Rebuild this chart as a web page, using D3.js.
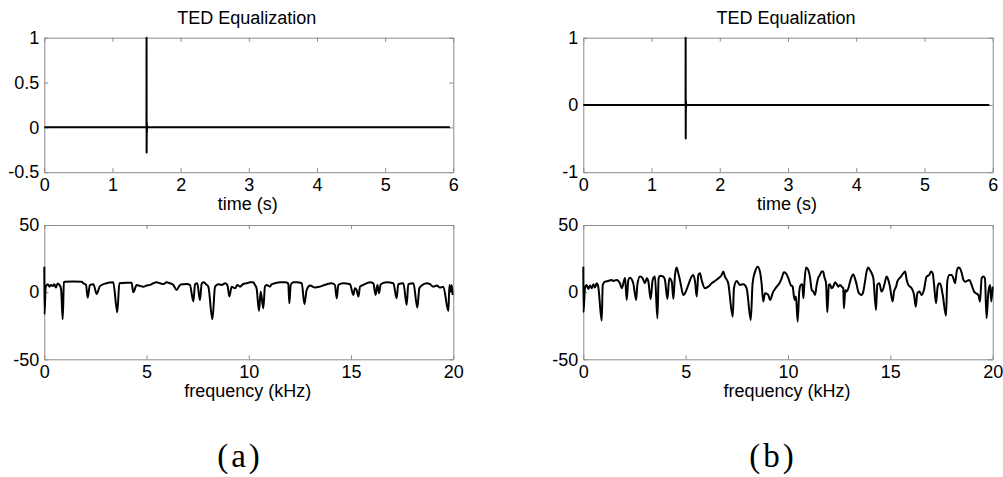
<!DOCTYPE html>
<html>
<head>
<meta charset="utf-8">
<script src="https://cdn.jsdelivr.net/npm/d3@7"></script>
<style>
  html, body { margin: 0; padding: 0; background: #fff; }
  svg { display: block; }
</style>
</head>
<body>
<svg id="fig" width="1003" height="477"></svg>
<script>
// Tick values
const timeTicks = [0, 1, 2, 3, 4, 5, 6];
const freqTicks = [0, 5, 10, 15, 20];
const ampTicksA = [-0.5, 0, 0.5, 1];
const ampTicksB = [-1, 0, 1];
const dbTicks = [-50, 0, 50];

// Equalized impulse responses: [time (s), amplitude]
const timeA = [[0, 0], [1.499, 0], [1.5, 1], [1.501, -0.28], [1.503, 0.06], [1.505, -0.06],
  [1.508, 0.02], [1.51, 0], [5.95, 0]];
const timeB = [[0, 0], [1.499, 0], [1.5, 1], [1.501, -0.5], [1.503, 0.07], [1.505, -0.05],
  [1.508, 0.02], [1.51, 0], [5.95, 0]];

// Magnitude responses: [frequency (kHz), level (dB)]
const freqA = [[0, 19], [0.01, -16.5], [0.07, 4.1], [0.17, 5.9], [0.25, 4.1], [0.33, 5.4], [0.41, 4.6],
  [0.49, 5.9], [0.57, 3.4], [0.65, 6.4], [0.74, 5.4], [0.82, 2.4], [0.9, -20.2], [0.96, 7.3], [1.01, 7.8],
  [1.4, 8.0], [1.83, 7.8], [1.91, 6.6], [2.04, 5.4], [2.12, -4.1], [2.23, 5.4], [2.4, 5.9], [2.56, -1.3],
  [2.72, 4.5], [3.0, 6.5], [3.37, 7.3], [3.57, -15.0], [3.67, 6.6], [4.0, 7.0], [4.27, 7.0], [4.35, -0.1],
  [4.52, 5.4], [4.68, 4.6], [4.84, 4.1], [5.0, 4.9], [5.17, 5.4], [5.33, 6.6], [5.49, 7.3], [5.66, 6.6],
  [5.82, 6.0], [5.98, 7.3], [6.14, 6.6], [6.31, 5.4], [6.47, 1.6], [6.64, 5.4], [6.8, 5.9], [6.96, 6.1],
  [7.12, 5.4], [7.29, -7.0], [7.37, 5.9], [7.48, 6.6], [7.61, -5.8], [7.7, 6.6], [7.81, 7.3], [7.91, 5.9],
  [8.02, 4.1], [8.22, -20.2], [8.35, 4.1], [8.51, 5.9], [8.68, 5.4], [8.84, 6.6], [8.95, 5.4], [9.05, -3.3],
  [9.16, 4.1], [9.33, 2.9], [9.44, 5.4], [9.57, 4.1], [9.73, 6.1], [9.9, 6.6], [10.06, 7.3], [10.22, 7.3],
  [10.3, 5.4], [10.38, 2.9], [10.5, -14.0], [10.58, 0.4], [10.71, -12.0], [10.79, 4.1], [10.87, 5.4],
  [11.04, 4.1], [11.12, 5.9], [11.28, 6.6], [11.53, 7.3], [11.77, 7.3], [11.93, 6.6], [11.98, -8.3],
  [12.05, 5.4], [12.18, 7.3], [12.34, 7.3], [12.59, 6.6], [12.72, -9.0], [12.83, 1.6], [13.0, 4.9],
  [13.24, 3.4], [13.48, 4.1], [13.81, 5.9], [14.05, 6.6], [14.21, 5.4], [14.3, -4.6], [14.38, 5.4],
  [14.62, 6.6], [14.95, 5.9], [15.11, -2.1], [15.19, 2.9], [15.27, 1.6], [15.36, -3.3], [15.44, 4.1],
  [15.6, 5.4], [15.93, 7.3], [16.09, 6.6], [16.2, -2.1], [16.29, 5.4], [16.37, -0.8], [16.45, 5.9],
  [16.74, 7.3], [17.07, 6.6], [17.23, -4.6], [17.31, 5.9], [17.56, 6.6], [17.72, -9.5], [17.8, 5.9],
  [18.05, 6.6], [18.24, -11.5], [18.34, 2.9], [18.45, 4.9], [18.7, 6.6], [18.86, 5.9], [19.02, 4.1],
  [19.19, 4.9], [19.35, 3.4], [19.51, 4.1], [19.76, -14.0], [19.81, 5.4], [19.87, 0.4], [19.92, 5.4],
  [19.97, -2.1]];

const freqB = [[0, 19], [0.01, -15], [0.08, 2.9], [0.16, 5.4], [0.25, 2.4], [0.33, 4.9], [0.41, 2.9],
  [0.49, 5.9], [0.57, 3.4], [0.65, 6.6], [0.73, 4.1], [0.9, -21.2], [0.95, 5.4], [1.06, 7.8], [1.22, 8.3],
  [1.39, 9.1], [1.47, 8.3], [1.63, 9.1], [1.79, 6.6], [1.88, 2.9], [2.04, 10.8], [2.12, -5.8], [2.2, 9.1],
  [2.28, 10.8], [2.44, 6.6], [2.58, -5.8], [2.64, 5.4], [2.77, 11.6], [2.9, 10.3], [3.01, 6.6], [3.1, 10.3],
  [3.18, 7.8], [3.29, -5.1], [3.39, 9.1], [3.5, 11.6], [3.62, -19.5], [3.68, 10.3], [3.75, 12.3],
  [3.91, 11.6], [3.99, 9.1], [4.11, -5.1], [4.2, 10.3], [4.32, 7.8], [4.4, -5.1], [4.48, 12.8], [4.56, 18.3],
  [4.64, 14.0], [4.72, 9.1], [4.89, -2.1], [4.97, -0.8], [5.13, 5.4], [5.29, 11.6], [5.37, 12.8], [5.46, 7.8],
  [5.54, -3.3], [5.62, 12.8], [5.7, 14.0], [5.78, 9.1], [5.94, 2.9], [6.11, 4.1], [6.27, 6.6], [6.43, 8.3],
  [6.6, 10.3], [6.76, 12.8], [6.84, 15.3], [6.92, 11.6], [7.08, 6.6], [7.3, -18.2], [7.36, 2.9], [7.49, 8.3],
  [7.65, 5.4], [7.82, 5.9], [7.98, 2.9], [8.18, -20.7], [8.27, 6.6], [8.39, 15.3], [8.52, 19.0], [8.63, 15.3],
  [8.71, 6.6], [8.79, -7.0], [8.88, -0.8], [9.04, -2.1], [9.12, -5.8], [9.28, 0.4], [9.45, 4.1], [9.58, 6.6],
  [9.69, 10.3], [9.8, 14.8], [9.9, 14.0], [10.02, 10.3], [10.13, 5.4], [10.23, 4.1], [10.29, -3.3],
  [10.34, -5.8], [10.39, -3.3], [10.47, -21.9], [10.55, 0.4], [10.62, 5.4], [10.7, 5.9], [10.75, -4.6],
  [10.8, 6.6], [10.88, 18.3], [10.99, 16.5], [11.07, 11.6], [11.16, 1.6], [11.24, 0.4], [11.32, -2.1],
  [11.4, 5.4], [11.48, 10.8], [11.56, 12.8], [11.64, 15.3], [11.72, 15.3], [11.77, 11.6], [11.86, 6.6],
  [11.92, -15.0], [12.0, 5.4], [12.05, 5.9], [12.13, 2.9], [12.21, 4.1], [12.3, 7.3], [12.38, 5.9],
  [12.46, 4.1], [12.54, 5.4], [12.62, 4.1], [12.7, 2.9], [12.73, -12.0], [12.8, 1.6], [12.86, 0.4],
  [12.95, 2.9], [13.03, 7.8], [13.11, 11.6], [13.19, 13.3], [13.27, 10.3], [13.35, 5.9], [13.43, 0.4],
  [13.52, -1.6], [13.6, -2.1], [13.68, 0.4], [13.76, 7.8], [13.84, 15.3], [13.92, 18.3], [14.0, 16.5],
  [14.09, 14.0], [14.17, 10.3], [14.3, -13.3], [14.36, 5.4], [14.46, 6.6], [14.57, 0.4], [14.66, 2.9],
  [14.74, 7.8], [14.82, 11.6], [14.9, 9.1], [14.98, 4.1], [15.11, -7.0], [15.18, 0.4], [15.28, 4.1],
  [15.34, 7.8], [15.44, 10.3], [15.52, 11.6], [15.63, 14.0], [15.72, 15.3], [15.8, 9.1], [15.88, 5.4],
  [15.96, 4.1], [16.04, 2.9], [16.16, -2.1], [16.24, -10.8], [16.32, -0.8], [16.42, 0.4], [16.53, -2.1],
  [16.64, 1.6], [16.77, 11.6], [16.9, 12.8], [16.99, 15.3], [17.07, 14.0], [17.13, 6.6], [17.23, -8.3],
  [17.31, 4.1], [17.39, 6.6], [17.46, 5.4], [17.56, -2.1], [17.72, -17.5], [17.78, 7.8], [17.88, 12.8],
  [18.0, 12.8], [18.08, 10.3], [18.16, 6.6], [18.24, 15.3], [18.32, 18.3], [18.4, 17.8], [18.49, 14.0],
  [18.57, 9.1], [18.65, 7.8], [18.73, 8.3], [18.86, 9.1], [18.97, 5.4], [19.09, 0.4], [19.18, -0.8],
  [19.3, -2.1], [19.38, -7.0], [19.46, 10.3], [19.54, 11.6], [19.62, 10.3], [19.7, -19.5], [19.79, 0.4],
  [19.87, 5.4], [19.93, -7.0], [20.0, 4.1]];

const svg = d3.select("#fig");
const FONT = "'Liberation Sans', Arial, Helvetica, sans-serif";
const AXIS_COLOR = "#8a8a8a";

const colLeft = [44.3, 453.3];
const colRight = [583.3, 992.7];
const rowTop = [37.7, 172.2];
const rowBottom = [225, 359.3];

const panels = [
  { xr: colLeft, yr: rowTop, xd: [0, 6], yd: [-0.5, 1], xt: timeTicks, yt: ampTicksA,
    data: timeA, curve: d3.curveLinear, title: "TED Equalization", xlabel: "time (s)" },
  { xr: colLeft, yr: rowBottom, xd: [0, 20], yd: [-50, 50], xt: freqTicks, yt: dbTicks,
    data: freqA, curve: d3.curveMonotoneX, xlabel: "frequency (kHz)" },
  { xr: colRight, yr: rowTop, xd: [0, 6], yd: [-1, 1], xt: timeTicks, yt: ampTicksB,
    data: timeB, curve: d3.curveLinear, title: "TED Equalization", xlabel: "time (s)" },
  { xr: colRight, yr: rowBottom, xd: [0, 20], yd: [-50, 50], xt: freqTicks, yt: dbTicks,
    data: freqB, curve: d3.curveMonotoneX, xlabel: "frequency (kHz)" }
];

panels.forEach(p => {
  const x = d3.scaleLinear().domain(p.xd).range(p.xr);
  const y = d3.scaleLinear().domain(p.yd).range([p.yr[1], p.yr[0]]);
  const g = svg.append("g");

  // box with inward ticks on all four sides
  const styleAxis = (sel) => {
    sel.attr("color", AXIS_COLOR)
      .attr("font-family", FONT)
      .attr("font-size", 18);
    sel.selectAll("path.domain").attr("stroke-width", 1);
    sel.selectAll(".tick line").attr("stroke-width", 1);
    sel.selectAll(".tick text").attr("fill", "#000");
  };

  g.append("g").attr("transform", `translate(0,${p.yr[1]})`)
    .call(d3.axisBottom(x).tickValues(p.xt).tickFormat(d => String(d))
      .tickSizeInner(-4).tickSizeOuter(0).tickPadding(6))
    .call(styleAxis);
  g.append("g").attr("transform", `translate(0,${p.yr[0]})`)
    .call(d3.axisTop(x).tickValues(p.xt).tickFormat(() => "")
      .tickSizeInner(-4).tickSizeOuter(0))
    .call(styleAxis);
  g.append("g").attr("transform", `translate(${p.xr[0]},0)`)
    .call(d3.axisLeft(y).tickValues(p.yt).tickFormat(d => String(d))
      .tickSizeInner(-4).tickSizeOuter(0).tickPadding(5))
    .call(styleAxis);
  g.append("g").attr("transform", `translate(${p.xr[1]},0)`)
    .call(d3.axisRight(y).tickValues(p.yt).tickFormat(() => "")
      .tickSizeInner(-4).tickSizeOuter(0))
    .call(styleAxis);

  // signal trace
  const line = d3.line().curve(p.curve).x(d => x(d[0])).y(d => y(d[1]));
  g.append("path")
    .datum(p.data)
    .attr("d", line)
    .attr("fill", "none")
    .attr("stroke", "#000")
    .attr("stroke-width", 2)
    .attr("stroke-linejoin", "round");

  const cx = (p.xr[0] + p.xr[1]) / 2;
  if (p.title) {
    g.append("text")
      .attr("x", cx - 2).attr("y", p.yr[0] - 14)
      .attr("text-anchor", "middle")
      .attr("font-family", FONT).attr("font-size", 18)
      .text(p.title);
  }
  g.append("text")
    .attr("x", cx - 1).attr("y", p.yr[1] + 38)
    .attr("text-anchor", "middle")
    .attr("font-family", FONT).attr("font-size", 18)
    .text(p.xlabel);
});

// sub-figure captions
const captions = [{ label: "(a)", x: 240 }, { label: "(b)", x: 773 }];
svg.selectAll("text.caption")
  .data(captions)
  .enter().append("text")
  .attr("class", "caption")
  .attr("x", d => d.x).attr("y", 467)
  .attr("text-anchor", "middle")
  .attr("font-family", "'Liberation Serif', 'Times New Roman', serif")
  .attr("font-size", 33)
  .attr("letter-spacing", 3)
  .text(d => d.label);
</script>
</body>
</html>
